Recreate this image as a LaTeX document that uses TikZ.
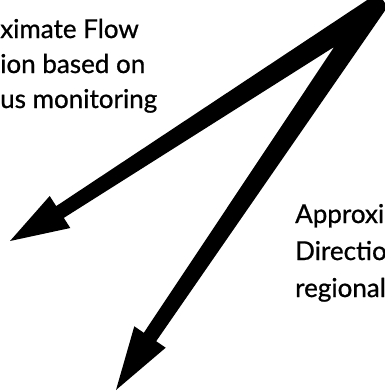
\documentclass[tikz,border=0pt]{standalone}
\usepackage{fontspec}
\setmainfont{Lato}
\newfontfamily\lblfont{Lato}[FakeBold=0.8]
\begin{document}
\begin{tikzpicture}[x=1pt,y=-1pt,
  lbl/.style={inner sep=0pt, font=\lblfont\fontsize{26}{36}\selectfont, anchor=base west}]
\useasboundingbox (0,0) rectangle (385,392);
\clip (0,0) rectangle (385,392);
% key points of the double arrow
\coordinate (apexL) at (367.2,0);
\coordinate (apexT) at (383,0);
\coordinate (apexC) at (385,3);
\coordinate (apexR) at (385,10.6);
\coordinate (notch) at (334.2,46.9);
\coordinate (Ls1) at (56.2,206.1);
\coordinate (Lb1) at (49.7,196);
\coordinate (Ltip) at (10,241);
\coordinate (Lb2) at (70.3,228);
\coordinate (Ls2) at (63.8,217.9);
\coordinate (Ds1) at (143.8,332.8);
\coordinate (Db1) at (134.3,326.3);
\coordinate (Dtip) at (116,390);
\coordinate (Db2) at (165.7,347.7);
\coordinate (Ds2) at (156.2,341.2);
\fill[black] (apexL) -- (Ls1) -- (Lb1) -- (Ltip) -- (Lb2) -- (Ls2) -- (notch)
  -- (Ds1) -- (Db1) -- (Dtip) -- (Db2) -- (Ds2) -- (apexR) -- (apexC) -- (apexT) -- cycle;
% labels (cropped at the picture edges)
\node[lbl] (t1) at (0,38) {\llap{Appro}ximate Flow};
\node[lbl] (t2) at (0,73) {\llap{Direct}ion based on};
\node[lbl] (t3) at (0,108) {\llap{previo}us monitoring};
\node[lbl] (r1) at (295,223) {Approxi\rlap{mate Flow}};
\node[lbl] (r2) at (295,260) {Directio\rlap{n based on}};
\node[lbl] (r3) at (295,297) {regiona\rlap{l monitoring}};
\end{tikzpicture}
\end{document}
